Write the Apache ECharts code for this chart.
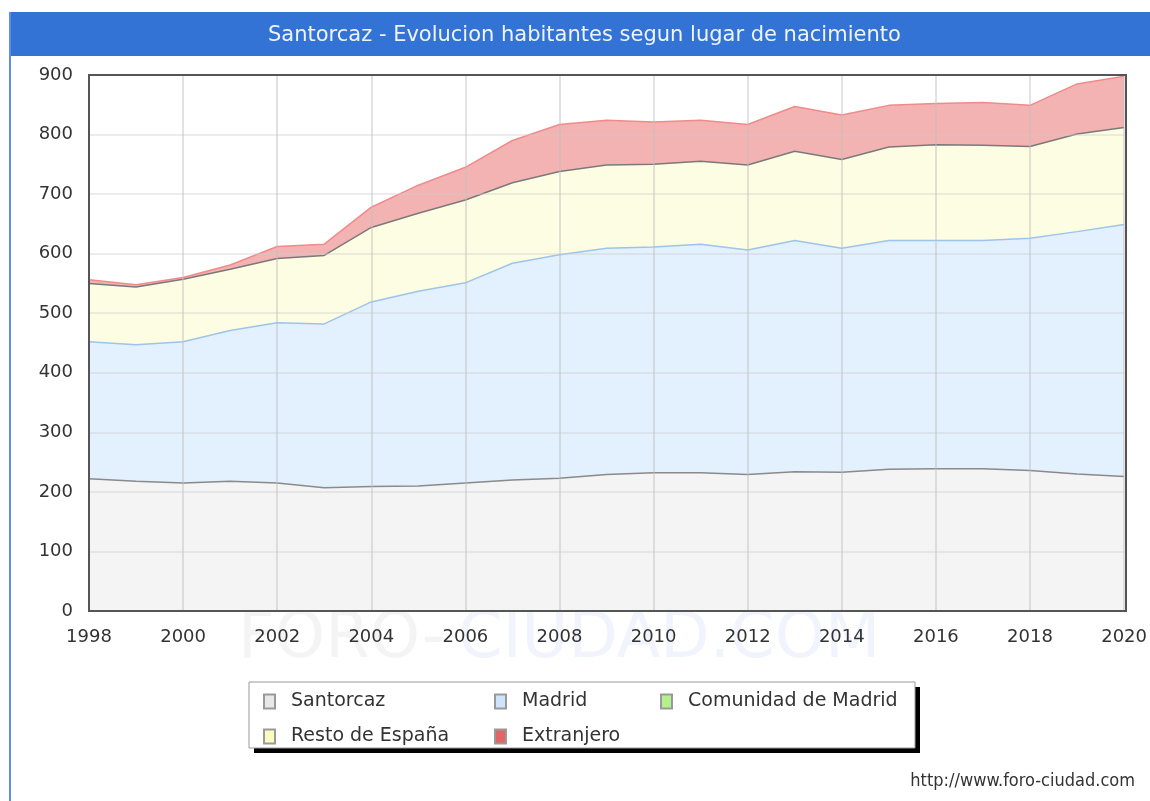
<!DOCTYPE html>
<html>
<head>
<meta charset="utf-8">
<script src="https://cdn.jsdelivr.net/npm/echarts@6/dist/echarts.min.js"></script>
<style>
  html, body { margin: 0; padding: 0; background: #fff; }
  #chart { width: 1150px; height: 801px; }
</style>
</head>
<body>
<div id="chart"></div>
<script>
const years = ['1998', '1999', '2000', '2001', '2002', '2003', '2004', '2005', '2006', '2007', '2008',
    '2009', '2010', '2011', '2012', '2013', '2014', '2015', '2016', '2017', '2018', '2019', '2020'];

const santorcaz = [222, 218, 215, 218, 215, 207, 209, 210, 215, 220, 223, 229, 232, 232, 229, 234, 233, 238, 239, 239, 236, 230, 226];
const madrid = [230, 229, 237, 253, 269, 275, 310, 327, 336, 364, 375, 380, 379, 384, 377, 388, 376, 384, 383, 383, 390, 407, 423];
const comunidad = [0, 0, 0, 0, 0, 0, 0, 0, 0, 0, 0, 0, 0, 0, 0, 0, 0, 0, 0, 0, 0, 0, 0];
const restoEspana = [98, 97, 105, 103, 108, 115, 125, 131, 139, 135, 140, 140, 139, 139, 143, 150, 149, 157, 161, 160, 154, 164, 163];
const extranjero = [6, 4, 3, 7, 20, 19, 34, 47, 55, 71, 79, 75, 71, 69, 68, 75, 75, 70, 69, 72, 69, 84, 86];

const yTicks = [0, 100, 200, 300, 400, 500, 600, 700, 800, 900];

const font = 'DejaVu Sans';

function areaSeries(name, data, fill, line, iconColor) {
    return {
        name: name,
        type: 'line',
        stack: 'total',
        data: data,
        symbol: 'none',
        smooth: false,
        z: 2,
        lineStyle: { color: line, width: 1.5 },
        areaStyle: { color: fill, opacity: 1 },
        itemStyle: { color: iconColor, borderColor: '#999', borderWidth: 1 },
        emphasis: { disabled: true },
    };
}

function legendColumn(left, names) {
    return {
        orient: 'vertical',
        left: left,
        top: 687,
        itemGap: 16,
        itemWidth: 11,
        itemHeight: 14,
        icon: 'rect',
        selectedMode: false,
        z: 5,
        data: names,
        textStyle: { fontFamily: font, fontSize: 19, color: '#333', padding: [0, 0, 0, 11] },
    };
}

const chart = echarts.init(document.getElementById('chart'));

const option = {
    animation: false,
    backgroundColor: '#fff',
    grid: {
        left: 89,
        right: 24,
        top: 75,
        bottom: 190,
    },
    xAxis: {
        type: 'category',
        data: years,
        boundaryGap: false,
        z: 3,
        axisLine: { lineStyle: { color: '#555', width: 2 } },
        axisTick: { show: false },
        axisLabel: {
            interval: 1,
            fontFamily: font,
            fontSize: 18,
            color: '#333',
            margin: 17,
        },
        splitLine: {
            show: true,
            interval: 1,
            lineStyle: { color: 'rgba(190,190,190,0.6)', width: 1.5 },
        },
    },
    yAxis: {
        type: 'value',
        min: yTicks[0],
        max: yTicks[yTicks.length - 1],
        interval: 100,
        z: 3,
        axisLine: { show: true, lineStyle: { color: '#555', width: 2 } },
        axisTick: { show: false },
        axisLabel: {
            fontFamily: font,
            fontSize: 18,
            color: '#333',
            margin: 16,
        },
        splitLine: { lineStyle: { color: 'rgba(205,205,205,0.5)', width: 1.5 } },
    },
    legend: [
        legendColumn(258, ['Santorcaz', 'Resto de España']),
        legendColumn(489, ['Madrid', 'Extranjero']),
        legendColumn(655, ['Comunidad de Madrid']),
    ],
    graphic: [
        // blue title bar and left border
        { type: 'rect', shape: { x: 9, y: 12, width: 1141, height: 44 }, style: { fill: '#3373d6' }, z: 10 },
        { type: 'rect', shape: { x: 9, y: 12, width: 2, height: 789 }, style: { fill: '#5d8fe0' }, z: 10 },
        {
            type: 'text', left: 268, top: 25, z: 11,
            style: {
                text: 'Santorcaz - Evolucion habitantes segun lugar de nacimiento',
                fill: '#eef3fc', fontFamily: font, fontSize: 21,
            },
        },
        // plot frame (top and right edges)
        {
            type: 'rect', z: 20, silent: true,
            shape: { x: 89, y: 75, width: 1037, height: 536 },
            style: { fill: null, stroke: '#555', lineWidth: 2 },
        },
        // watermark
        {
            type: 'text', left: 238, top: 608, z: 0, silent: true,
            style: {
                text: 'FORO-', fill: 'rgba(228,228,228,0.4)', fontFamily: font, fontSize: 64,
            },
        },
        {
            type: 'text', left: 458, top: 608, z: 0, silent: true,
            style: {
                text: 'CIUDAD.COM', fill: 'rgba(220,224,250,0.4)', fontFamily: font, fontSize: 64,
            },
        },
        // legend box with shadow
        {
            type: 'rect', z: 1, silent: true,
            shape: { x: 254, y: 687, width: 666, height: 66 },
            style: { fill: '#000' },
        },
        {
            type: 'rect', z: 2, silent: true,
            shape: { x: 249, y: 682, width: 666, height: 66 },
            style: { fill: '#fff', stroke: '#999', lineWidth: 1 },
        },
        {
            type: 'text', right: 15, top: 772, z: 11,
            style: {
                text: 'http://www.foro-ciudad.com', fill: '#333', fontFamily: 'DejaVu Sans Condensed', fontSize: 18,
            },
        },
    ],
    series: [
        areaSeries('Santorcaz', santorcaz, '#f4f4f4', '#8a8a8a', '#e8e8e8'),
        areaSeries('Madrid', madrid, '#e3f0fd', '#9cc4ec', '#cde4fa'),
        Object.assign(areaSeries('Comunidad de Madrid', comunidad, '#d8f5c0', '#9cc4ec', '#b6f08c'),
            { lineStyle: { width: 0 } }),
        areaSeries('Resto de España', restoEspana, '#fdfde3', '#7a7a7a', '#fbfbbf'),
        areaSeries('Extranjero', extranjero, '#f4b3b3', '#f28a8a', '#e26464'),
    ],
};

chart.setOption(option);
</script>
</body>
</html>
